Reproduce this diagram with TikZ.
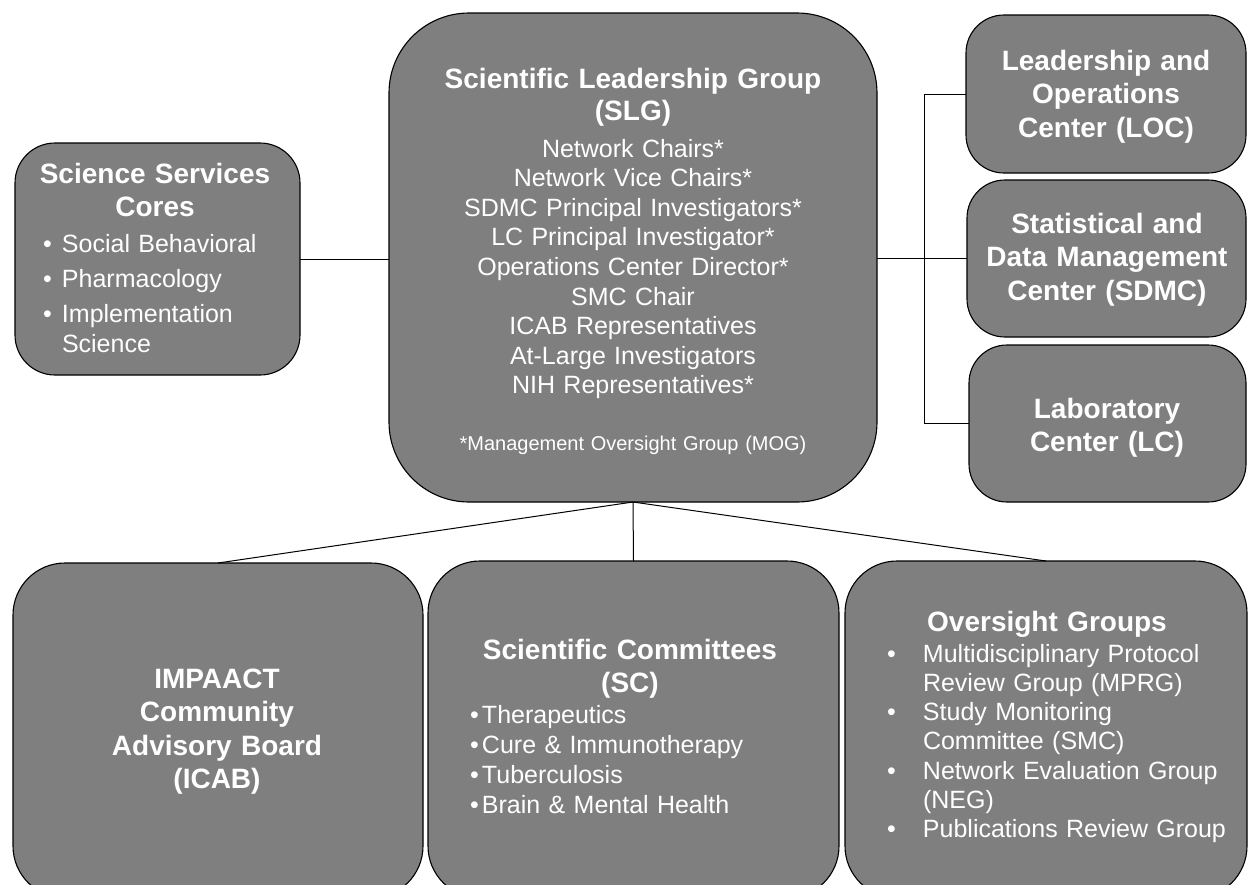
\documentclass[tikz,border=0pt]{standalone}
\usepackage{fontspec}
\setmainfont{Liberation Sans}
\definecolor{boxgray}{HTML}{7F7F7F}
\newcommand{\mybul}[1]{\makebox[#1][l]{\textbullet}}
\begin{document}
\begin{tikzpicture}[x=1pt,y=-1pt,
  box/.style={draw=black, line width=1.1pt, fill=boxgray, rectangle, inner sep=0pt, outer sep=0pt},
  conn/.style={draw=black, line width=1pt},
  ttl/.style={text=white, font=\bfseries\fontsize{28}{33}\selectfont, align=center, anchor=base, inner sep=0pt, outer sep=0pt, text width=#1},
  bigttl/.style={text=white, font=\bfseries\fontsize{28}{33.5}\selectfont, align=center, anchor=base, inner sep=0pt, outer sep=0pt, text width=#1},
  ctrbody/.style={text=white, font=\fontsize{25}{29.6}\selectfont, align=center, anchor=base, inner sep=0pt, outer sep=0pt, text width=#1},
  lbody/.style={text=white, font=\fontsize{25}{29.4}\selectfont, align=left, anchor=base west, inner sep=0pt, outer sep=0pt, text width=#1}
]
\useasboundingbox (0,0) rectangle (1248,884);
\fill[white] (0,0) rectangle (1248,884);

% boxes
\node[box, rounded corners=40pt, minimum width=285pt, minimum height=232pt] (ssc) at (157.5,259) {};
\node[box, rounded corners=80pt, minimum width=488pt, minimum height=489pt] (slg) at (633,257.5) {};
\node[box, rounded corners=38pt, minimum width=280pt, minimum height=158pt] (loc) at (1106,94) {};
\node[box, rounded corners=38pt, minimum width=279pt, minimum height=157pt] (sdmc) at (1106.5,258.5) {};
\node[box, rounded corners=38pt, minimum width=277pt, minimum height=157pt] (lc) at (1107.5,423.5) {};
\node[box, rounded corners=52pt, minimum width=410pt, minimum height=335pt] (icab) at (218,730.5) {};
\node[box, rounded corners=52pt, minimum width=411pt, minimum height=337pt] (sc) at (633.5,729.5) {};
\node[box, rounded corners=52pt, minimum width=402pt, minimum height=337pt] (og) at (1046,729.5) {};

% connectors
\coordinate (bus) at (924,258);
\draw[conn] (ssc.east) -- (slg.west |- ssc.east);
\draw[conn] (slg.east |- sdmc.west) -- (sdmc.west);
\draw[conn] (loc.west) -- (loc.west -| bus) -- (lc.west -| bus) -- (lc.west);
\draw[conn] (slg.south) -- (icab.north);
\draw[conn] (slg.south) -- (sc.north);
\draw[conn] (slg.south) -- (og.north);

% texts: SSC
\node[ttl=270pt] (ssct) at (155,183) {Science Services\\Cores};
\node[lbody=250pt] (sscb) at (43,252) {\mybul{19pt}Social Behavioral\\[6pt]\mybul{19pt}Pharmacology\\[6pt]\mybul{19pt}Implementation\\\hspace*{19pt}Science};

% SLG
\node[ttl=480pt, font=\bfseries\fontsize{28}{32}\selectfont] (slgt) at (633,88) {Scientific Leadership Group\\(SLG)};
\node[ctrbody=470pt] (slgb) at (633,157) {Network Chairs*\\Network Vice Chairs*\\SDMC Principal Investigators*\\LC Principal Investigator*\\Operations Center Director*\\SMC Chair\\ICAB Representatives\\At-Large Investigators\\NIH Representatives*};
\node[ctrbody=470pt, font=\fontsize{20}{24}\selectfont] (mog) at (633,450) {*Management Oversight Group (MOG)};

% right boxes
\node[bigttl=270pt] (loct) at (1106,70) {Leadership and\\Operations\\Center (LOC)};
\node[bigttl=270pt] (sdmct) at (1107,233) {Statistical and\\Data Management\\Center (SDMC)};
\node[bigttl=270pt] (lct) at (1107,418) {Laboratory\\Center (LC)};

% bottom boxes
\node[bigttl=390pt] (icabt) at (217,688) {IMPAACT\\Community\\Advisory Board\\(ICAB)};
\node[ttl=400pt] (sct) at (630,659) {Scientific Committees\\(SC)};
\node[lbody=360pt, font=\fontsize{25}{30}\selectfont] (scb) at (470,723) {\mybul{12pt}Therapeutics\\\mybul{12pt}Cure \& Immunotherapy\\\mybul{12pt}Tuberculosis\\\mybul{12pt}Brain \& Mental Health};
\node[ttl=390pt] (ogt) at (1047,631) {Oversight Groups};
\node[lbody=360pt, font=\fontsize{25}{29.33}\selectfont] (ogb) at (887,662) {\mybul{36pt}Multidisciplinary Protocol\\\hspace*{36pt}Review Group (MPRG)\\\mybul{36pt}Study Monitoring\\\hspace*{36pt}Committee (SMC)\\\mybul{36pt}Network Evaluation Group\\\hspace*{36pt}(NEG)\\\mybul{36pt}Publications Review Group};
\end{tikzpicture}
\end{document}
